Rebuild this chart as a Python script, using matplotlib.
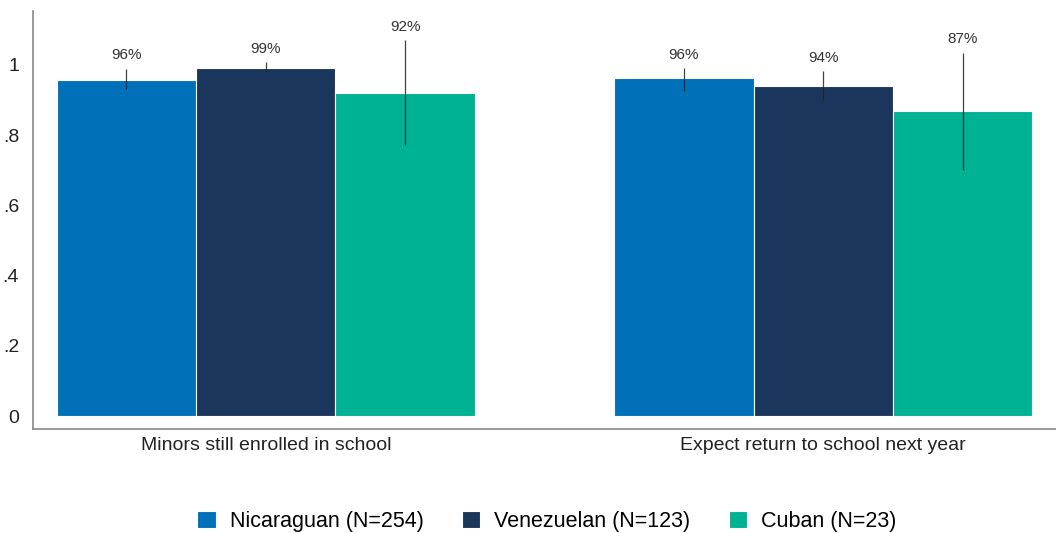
import matplotlib.pyplot as plt
import numpy as np

plt.rcParams['font.family'] = ['Liberation Sans', 'DejaVu Sans']

# -----------------------------
# Data
# -----------------------------
categories = ["Minors still enrolled in school", "Expect return to school next year"]
series = ["Nicaraguan (N=254)", "Venezuelan (N=123)", "Cuban (N=23)"]
colors = ["#0070b8", "#1b365d", "#00b294"]

values = [
    [0.957, 0.963],   # Nicaraguan
    [0.990, 0.940],   # Venezuelan
    [0.920, 0.870],   # Cuban
]
ci_low = [
    [0.932, 0.925],
    [0.980, 0.900],
    [0.773, 0.700],
]
ci_high = [
    [0.989, 0.990],
    [1.008, 0.982],
    [1.070, 1.035],
]
labels = [
    ["96%", "96%"],
    ["99%", "94%"],
    ["92%", "87%"],
]
yticks = [0, 0.2, 0.4, 0.6, 0.8, 1.0]
ytick_labels = ["0", ".2", ".4", ".6", ".8", "1"]

# -----------------------------
# Plot
# -----------------------------
fig = plt.figure(figsize=(10.56, 5.33), dpi=100)
ax = fig.add_axes([0.03125, 0.195, 0.96875, 0.784])

group_x = np.array([0.0, 4.0])
width = 1.0

for i, name in enumerate(series):
    x = group_x + (i - 1) * width
    ax.bar(x, values[i], width=width, color=colors[i], edgecolor="white",
           linewidth=0.8, label=name, zorder=2)
    lo = np.array(ci_low[i])
    hi = np.array(ci_high[i])
    ax.vlines(x, lo, hi, color="#222222", linewidth=0.9, alpha=0.85, zorder=3)
    for xx, top, lab in zip(x, hi, labels[i]):
        ax.text(xx, top + 0.018, lab, ha="center", va="bottom",
                fontsize=11, color="#333333")

ax.set_xlim(-1.67, 5.67)
ax.set_ylim(-0.037, 1.153)
ax.set_xticks(group_x)
ax.set_xticklabels(categories, fontsize=14, color="#222222")
ax.set_yticks(yticks)
ax.set_yticklabels(ytick_labels, fontsize=14, color="#222222")
ax.tick_params(axis="both", length=0)
ax.tick_params(axis="y", pad=10)
ax.tick_params(axis="x", pad=6)

for side in ["top", "right"]:
    ax.spines[side].set_visible(False)
for side in ["left", "bottom"]:
    ax.spines[side].set_color("#888888")
    ax.spines[side].set_linewidth(1.2)

fig.legend(loc="lower center", bbox_to_anchor=(0.518, -0.035), ncol=3,
           frameon=False, fontsize=15.5, handlelength=0.84, handleheight=0.84,
           handletextpad=0.65, columnspacing=1.8)

fig.savefig("out.png", dpi=100)
